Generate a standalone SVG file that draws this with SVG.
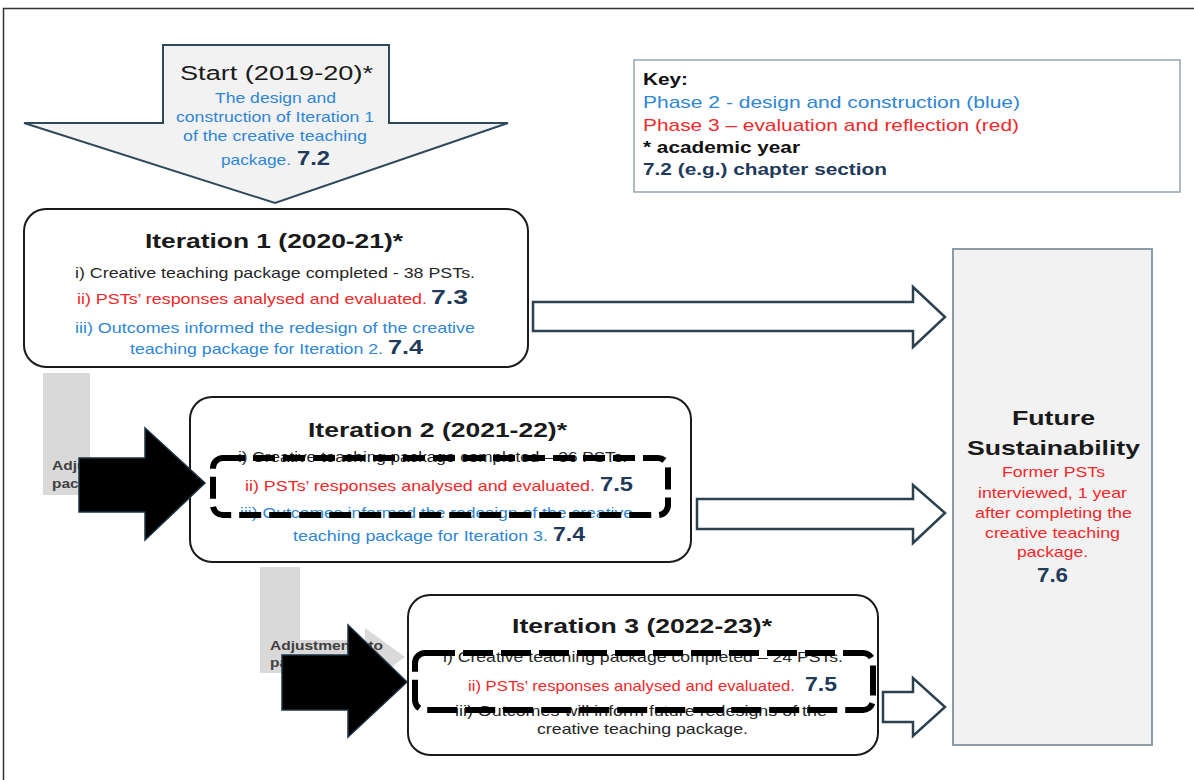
<svg xmlns="http://www.w3.org/2000/svg" width="1194" height="780" viewBox="0 0 1194 780">
<defs>
<style>
text{font-family:"Liberation Sans",Arial,sans-serif;}
.b{font-weight:bold;}
.ttl{font-size:21px;font-weight:bold;fill:#1a1a1a;}
.body{font-size:15px;}
.blk{fill:#262626;}
.blue{fill:#2f86d4;}
.red{fill:#f2282a;}
.num{font-size:20px;font-weight:bold;fill:#1f3a5a;}
.box{fill:#ffffff;stroke:#1a1a1a;stroke-width:2;}
.dash{fill:none;stroke:#000;stroke-width:6;stroke-dasharray:22 8;}
.dash3{stroke-dasharray:30 8;}
.hollow{fill:#ffffff;stroke:#2c4150;stroke-width:2.5;stroke-linejoin:miter;}
.blkarrow{fill:#000;stroke:#1d3344;stroke-width:1.5;}
.gray{fill:#d9d9d9;}
.adj{font-size:13px;font-weight:bold;fill:#404040;}
</style>
</defs>
<rect width="1194" height="780" fill="#ffffff"/>
<path d="M3.5,780 V8.5 H1194" fill="none" stroke="#333" stroke-width="1.5"/>

<g id="start">
<polygon points="163,45 389,45 389,123 508,123 275,203 24,123 163,123" fill="#f2f2f2" stroke="#2e4a5a" stroke-width="2"/>
<text x="180" y="80" font-size="20" fill="#1a1a1a" textLength="193" lengthAdjust="spacingAndGlyphs">Start (2019-20)*</text>
<text class="blue" font-size="15" x="215" y="103" textLength="121" lengthAdjust="spacingAndGlyphs">The design and</text>
<text class="blue" font-size="15" x="176" y="122" textLength="198" lengthAdjust="spacingAndGlyphs">construction of Iteration 1</text>
<text class="blue" font-size="15" x="183" y="141" textLength="184" lengthAdjust="spacingAndGlyphs">of the creative teaching</text>
<text font-size="15" y="165"><tspan class="blue" x="221" textLength="70" lengthAdjust="spacingAndGlyphs">package.</tspan><tspan class="num" font-size="19" x="297" textLength="33" lengthAdjust="spacingAndGlyphs">7.2</tspan></text>
</g>

<g id="key">
<rect x="634" y="60" width="546" height="132" fill="#ffffff" stroke="#95a5b0" stroke-width="1.5"/>
<text class="b" x="643" y="85" font-size="16" fill="#111" textLength="45" lengthAdjust="spacingAndGlyphs">Key:</text>
<text class="blue" x="643" y="108" font-size="17" textLength="377" lengthAdjust="spacingAndGlyphs">Phase 2 - design and construction (blue)</text>
<text class="red" x="643" y="131" font-size="17" textLength="376" lengthAdjust="spacingAndGlyphs">Phase 3 – evaluation and reflection (red)</text>
<text class="b" x="643" y="153" font-size="16" fill="#111" textLength="157" lengthAdjust="spacingAndGlyphs">* academic year</text>
<text class="b" x="643" y="175" font-size="16" fill="#1f3a5a" textLength="244" lengthAdjust="spacingAndGlyphs">7.2 (e.g.) chapter section</text>
</g>

<g id="iteration1">
<rect class="box" x="24" y="209" width="504" height="158" rx="22"/>
<text class="ttl" x="145" y="248" textLength="258" lengthAdjust="spacingAndGlyphs">Iteration 1 (2020-21)*</text>
<text class="body blk" x="75" y="278" textLength="400" lengthAdjust="spacingAndGlyphs">i) Creative teaching package completed - 38 PSTs.</text>
<text class="body" y="304"><tspan class="red" x="77" textLength="350" lengthAdjust="spacingAndGlyphs">ii) PSTs’ responses analysed and evaluated.</tspan><tspan class="num" x="431" textLength="37" lengthAdjust="spacingAndGlyphs">7.3</tspan></text>
<text class="body blue" x="75" y="333" textLength="400" lengthAdjust="spacingAndGlyphs">iii) Outcomes informed the redesign of the creative</text>
<text class="body" y="354"><tspan class="blue" x="130" textLength="253" lengthAdjust="spacingAndGlyphs">teaching package for Iteration 2.</tspan><tspan class="num" x="388" textLength="35" lengthAdjust="spacingAndGlyphs">7.4</tspan></text>
</g>

<g id="iteration2">
<rect class="box" x="190" y="397" width="501" height="165" rx="22"/>
<text class="ttl" x="308" y="437" textLength="259" lengthAdjust="spacingAndGlyphs">Iteration 2 (2021-22)*</text>
<text class="blk" font-size="14" x="238" y="462" textLength="389" lengthAdjust="spacingAndGlyphs">i) Creative teaching package completed – 36 PSTs.</text>
<text class="body" y="491"><tspan class="red" x="245" textLength="350" lengthAdjust="spacingAndGlyphs">ii) PSTs’ responses analysed and evaluated.</tspan><tspan class="num" x="600" textLength="33" lengthAdjust="spacingAndGlyphs">7.5</tspan></text>
<text class="body blue" x="240" y="518" textLength="393" lengthAdjust="spacingAndGlyphs">iii) Outcomes informed the redesign of the creative</text>
<text class="body" y="541"><tspan class="blue" x="293" textLength="255" lengthAdjust="spacingAndGlyphs">teaching package for Iteration 3.</tspan><tspan class="num" x="553" textLength="32" lengthAdjust="spacingAndGlyphs">7.4</tspan></text>
<rect class="dash" x="213" y="458" width="455" height="57" rx="10"/>
</g>

<g id="iteration3">
<rect class="box" x="408" y="595" width="470" height="160" rx="22"/>
<text class="ttl" x="512" y="633" textLength="260" lengthAdjust="spacingAndGlyphs">Iteration 3 (2022-23)*</text>
<text class="body blk" x="443" y="662" textLength="400" lengthAdjust="spacingAndGlyphs">i) Creative teaching package completed – 24 PSTs.</text>
<text class="body" y="691"><tspan class="red" x="468" textLength="327" lengthAdjust="spacingAndGlyphs">ii) PSTs’ responses analysed and evaluated.</tspan><tspan class="num" x="805" textLength="32" lengthAdjust="spacingAndGlyphs">7.5</tspan></text>
<text class="body blk" x="455" y="716" textLength="372" lengthAdjust="spacingAndGlyphs">iii) Outcomes will inform future redesigns of the</text>
<text class="body blk" x="537" y="734" textLength="211" lengthAdjust="spacingAndGlyphs">creative teaching package.</text>
<rect class="dash dash3" x="415" y="653" width="458" height="57" rx="10"/>
</g>

<g id="future">
<rect x="953" y="249" width="199" height="496" fill="#f2f2f2" stroke="#8c9ba6" stroke-width="2"/>
<text class="b" x="1012" y="425" font-size="21" fill="#1a1a1a" textLength="83" lengthAdjust="spacingAndGlyphs">Future</text>
<text class="b" x="967" y="455" font-size="21" fill="#1a1a1a" textLength="173" lengthAdjust="spacingAndGlyphs">Sustainability</text>
<text class="red" font-size="14.5" x="1002" y="477" textLength="103" lengthAdjust="spacingAndGlyphs">Former PSTs</text>
<text class="red" font-size="14.5" x="978" y="498" textLength="149" lengthAdjust="spacingAndGlyphs">interviewed, 1 year</text>
<text class="red" font-size="14.5" x="975" y="518" textLength="157" lengthAdjust="spacingAndGlyphs">after completing the</text>
<text class="red" font-size="14.5" x="985" y="538" textLength="135" lengthAdjust="spacingAndGlyphs">creative teaching</text>
<text class="red" font-size="14.5" x="1017" y="557" textLength="71" lengthAdjust="spacingAndGlyphs">package.</text>
<text class="num" font-size="19" x="1037" y="582" textLength="31" lengthAdjust="spacingAndGlyphs">7.6</text>
</g>

<g id="connectors">
<polygon class="hollow" points="533,302 913,302 913,287 945,317 913,347 913,331 533,331"/>
<polygon class="hollow" points="697,499 913,499 913,485 945,513 913,543 913,529 697,529"/>
<polygon class="hollow" points="883,692 913,692 913,678 945,707 913,736 913,722 883,722"/>
<g id="adjust1">
<polygon class="gray" points="43,373 90,373 90,460 150,460 150,456 178,482 150,508 150,495 43,495"/>
<text class="adj" x="52" y="470" textLength="113" lengthAdjust="spacingAndGlyphs">Adjustments to</text>
<text class="adj" x="52" y="488" textLength="62" lengthAdjust="spacingAndGlyphs">package</text>
<polygon class="blkarrow" points="79,458 145,458 145,428 205,483 145,540 145,512 79,512"/>
</g>
<g id="adjust2">
<polygon class="gray" points="260,567 300,567 300,640 365,640 365,628 405,657 365,686 365,673 260,673"/>
<text class="adj" x="270" y="650" textLength="113" lengthAdjust="spacingAndGlyphs">Adjustments to</text>
<text class="adj" x="270" y="667" textLength="62" lengthAdjust="spacingAndGlyphs">package</text>
<polygon class="blkarrow" points="282,655 348,655 348,625 407,682 348,737 348,710 282,710"/>
</g>
</g>
</svg>
